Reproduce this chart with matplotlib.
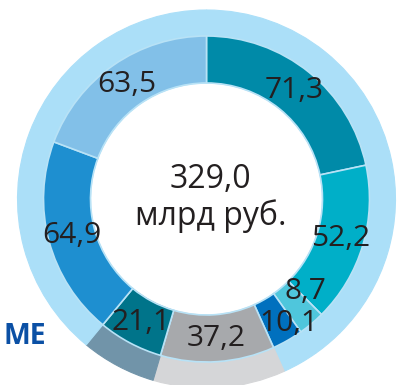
import numpy as np
import matplotlib.pyplot as plt

plt.rcParams["font.family"] = ["Open Sans", "DejaVu Sans"]

# Structure of the total, bn rubles (clockwise from the top)
values = [71.3, 52.2, 8.7, 10.1, 37.2, 21.1, 64.9, 63.5]
labels = ["71,3", "52,2", "8,7", "10,1", "37,2", "21,1", "64,9", "63,5"]
inner_colors = ["#008aa8", "#00afc8", "#4fc6dc", "#0070be",
                "#a7a9ac", "#00748a", "#1e8fd0", "#82c0e8"]
outer_colors = ["#abdff8", "#abdff8", "#abdff8", "#abdff8",
                "#d5d6d8", "#7194a9", "#abdff8", "#abdff8"]
total_label = "329,0\nмлрд руб."

# label nudges for the two narrow wedges (degrees, radius)
label_nudge = {2: (7.0, -4.0), 3: (3.5, 10.0)}

TEXT = "#231f20"
cx, cy = 206.5, 186.0
r_outer, r_inner, r_hole = 189.0, 163.0, 116.0

fig = plt.figure(figsize=(3.98, 3.85), dpi=100)
ax = fig.add_axes([0, 0, 1, 1])

outer, _ = ax.pie(values, radius=r_outer, center=(cx, cy), startangle=90,
                  counterclock=False, colors=outer_colors,
                  wedgeprops=dict(width=r_outer - r_hole, linewidth=0.8))
# hide antialiasing seams between same-coloured outer wedges
for w in outer:
    w.set_edgecolor(w.get_facecolor())

wedges, _ = ax.pie(values, radius=r_inner, center=(cx, cy), startangle=90,
                   counterclock=False, colors=inner_colors,
                   wedgeprops=dict(width=r_inner - r_hole,
                                   edgecolor="#b8e2f6", linewidth=1.2))

# pie() resets the limits, so fix the pixel-sized frame afterwards
ax.set_xlim(0, 398)
ax.set_ylim(0, 385)
ax.set_aspect("equal")
ax.axis("off")

r_label = (r_inner + r_hole) / 2
for i, (w, text) in enumerate(zip(wedges, labels)):
    mid = np.deg2rad((w.theta1 + w.theta2) / 2 + label_nudge.get(i, (0, 0))[0])
    r = r_label + label_nudge.get(i, (0, 0))[1]
    ax.text(cx + r * np.cos(mid), cy + r * np.sin(mid), text,
            ha="center", va="center", fontsize=21.5, color=TEXT)

ax.text(cx + 4, cy + 1, total_label, ha="center", va="center",
        fontsize=23, color=TEXT, linespacing=1.15)

ax.text(3, 49, "ME", ha="left", va="center", fontsize=20.5,
        fontweight="bold", color="#0b50a5")

fig.savefig("out.png", dpi=100)
